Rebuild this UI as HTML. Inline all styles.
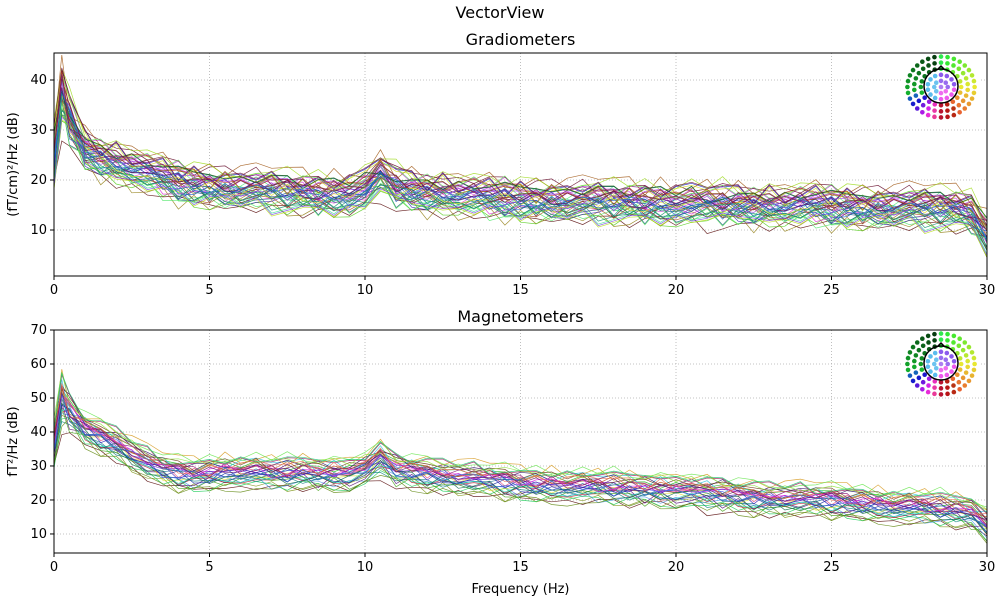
<!DOCTYPE html>
<html><head><meta charset="utf-8"><style>
body{margin:0;background:#fff;font-family:"Liberation Sans",sans-serif}
svg text{font-family:"DejaVu Sans","Liberation Sans",sans-serif;fill:#000}
</style></head><body>
<svg id="c" width="1000" height="600"></svg>
<script>
const freqs=[0,0.25,0.5,1,1.5,2,2.5,3,3.5,4,4.5,5,5.5,6,6.5,7,7.5,8,8.5,9,9.5,10,10.5,11,11.5,12,12.5,13,13.5,14,14.5,15,15.5,16,16.5,17,17.5,18,18.5,19,19.5,20,20.5,21,21.5,22,22.5,23,23.5,24,24.5,25,25.5,26,26.5,27,27.5,28,28.5,29,29.5,30];
const gradMean=[24,37,32,26,24.5,23.5,22.5,21.5,20.5,19.5,19,18.7,18.4,18.2,18,17.8,17.6,17.4,17.2,17,17.3,18,21,18.5,17.8,17.5,17.3,17,16.8,16.5,16.3,16,15.9,15.8,15.7,15.6,15.6,15.5,15.5,15.4,15.3,15.3,15.2,15.1,15,15,14.9,14.9,14.8,14.9,15,14.7,14.6,14.5,14.5,14.4,14.4,14.3,14.3,14.2,13.5,9];
const magMean=[36,50,46,41,39,37,34,31,29,28,27.5,28,28.5,28.5,28.5,28,28,28.5,28,28,28,29,32.5,29,28.5,28,27.5,27,26.5,26,25.5,25,24.8,24.6,24.4,24.2,24,23.8,23.6,23.4,23.2,23,22.6,22.2,21.8,21.4,21,20.8,20.6,20.4,20.2,20,19.6,19.2,18.8,18.4,18.2,18,17.6,17.2,16.5,13];
const gradOffsets=[-4,-3.5,-3,-2.6,-2.2,-1.8,-1.5,-1.2,-0.9,-0.6,-0.3,0,0.2,0.5,0.8,1,1.3,1.6,1.9,2.2,2.6,3,3.5,4,-2.8,-0.8,0.6,1.4,2.4,-1.6,-3.2,-2.4,-1.3,-0.5,0.1,0.7,1.2,1.8,2.8,-2,-1,0.3,0.9,1.5,-0.1,2,-1.4,0.4,-2.9,1.1];
const magOffsets=[-5,-4.2,-3.6,-3,-2.4,-1.9,-1.4,-0.9,-0.4,0,0.4,0.9,1.4,1.9,2.5,3.1,3.8,4.5,-2.6,-0.2,1.1,2.2,-3.3,-1.6,-0.6,0.6,1.6,2.8,-2,-1.1,0.2,1.2,-4.5,3.4,-0.8,0.8];
const jitter=[1.2,-0.8,0.5,-1.4,0.9,0.3,-0.6,1.5,-1.1,0.2,0.8,-1.3,0.4,1.1,-0.5,-0.9,1.3,-0.2,0.6,-1.5,0.9,-0.4,1.4,-0.7,0.1,-1.2,0.7,1.0,-0.3,-1.0,0.5,1.2,-0.8,0.3,-1.4,0.8,-0.1,1.1,-0.6,0.4,-0.9,1.3,-0.4,0.2,-1.1,0.9,0.6,-1.3,1.0,-0.2,0.3,-0.8,1.2,-0.5,0.7,-1.0,0.4,1.1,-0.7,0.2,-0.3,0.8,-1.2];
const xTicks=[0,5,10,15,20,25,30];
const gradTicks=[10,20,30,40];
const magTicks=[10,20,30,40,50,60,70];
const NS="http://www.w3.org/2000/svg";
const svg=document.getElementById('c');
function el(t,a,p){const e=document.createElementNS(NS,t);for(const k in a)e.setAttribute(k,a[k]);(p||svg).appendChild(e);return e;}
function txt(s,a,p){const e=el('text',a,p);e.textContent=s;return e;}
const ttl=txt('VectorView',{x:500,y:18,'text-anchor':'middle','font-size':16});

function panel(name,title,top,bot,ymin,ymax,ticks,mean,offs,ylabel,showXlabel){
 const g=el('g',{});
 
 
 const L=54,R=987;
 const X=f=>L+(f/30)*(R-L);
 const Y=v=>bot-(v-ymin)/(ymax-ymin)*(bot-top);
 const t=txt(title,{x:(L+R)/2,y:top-8,'text-anchor':'middle','font-size':16},g);
 
 const grid=el('g',{stroke:'#b0b0b0','stroke-width':0.8,'stroke-dasharray':'1,2'},g);
 xTicks.forEach(v=>{el('line',{x1:X(v),x2:X(v),y1:top,y2:bot},grid);});
 ticks.forEach(v=>{el('line',{x1:L,x2:R,y1:Y(v),y2:Y(v)},grid);});
 const lines=el('g',{fill:'none','stroke-width':0.7,'stroke-opacity':0.85},g);
 offs.forEach((o,ci)=>{
  const pts=freqs.map((f,i)=>{
   const j=jitter[(i*3+ci*7)%jitter.length];
   const sc=(i<3?2:1.3);
   return X(f).toFixed(1)+','+Y(mean[i]+o*(i<2?1.6:1)+j*sc).toFixed(1);
  }).join(' ');
  const hue=(ci*360/offs.length*7)%360;
  const light=20+((ci*13)%45);
  const p=el('polyline',{points:pts,stroke:`hsl(${hue},75%,${light}%)`},lines);
  
  
 });
 el('rect',{x:L,y:top,width:R-L,height:bot-top,fill:'none',stroke:'#000','stroke-width':1},g);
 ticks.forEach(v=>{el('line',{x1:L-4,x2:L,y1:Y(v),y2:Y(v),stroke:'#000'},g);
  txt(String(v),{x:L-7,y:Y(v)+4,'text-anchor':'end','font-size':13},g);});
 xTicks.forEach(v=>{el('line',{x1:X(v),x2:X(v),y1:bot,y2:bot+4,stroke:'#000'},g);
  txt(String(v),{x:X(v),y:bot+18,'text-anchor':'middle','font-size':13},g);});
 const yl=txt(ylabel,{x:17,y:(top+bot)/2,'text-anchor':'middle','font-size':13,transform:`rotate(-90 17 ${(top+bot)/2})`},g);
 
 if(showXlabel){const xl=txt('Frequency (Hz)',{x:(L+R)/2,y:593,'text-anchor':'middle','font-size':13},g);
  }
 const cx=941,cy=top+33;
 const ins=el('g',{},g);
 
 
 el('rect',{x:cx-40,y:cy-31,width:80,height:64,fill:'#fff'},ins);
 for(let r=0;r<=5;r++){const n=r===0?1:r*6+2;
  for(let k=0;k<n;k++){const a=k/n*2*Math.PI;const rad=r*6.4;
   const dx=Math.sin(a)*rad*1.05,dy=-Math.cos(a)*rad*0.95;
   const deg=a*180/Math.PI;
   let hue,sat=80,light;
   if(deg<=180){hue=130-deg*(140/180);}else{hue=130;}
   if(r<=2){hue=(r===0)?265:(hue<60?300:220+(deg>180?-20:40));light=72-r*4;}
   else{light=deg>180?(60-(deg-180)/180*50):55;if(deg>150&&deg<=180)light=40;}
   if(deg>180&&r>2){hue=deg>250?130:(350-(deg-180)*2);}
   el('circle',{cx:cx+dx,cy:cy+dy+1,r:2.3,fill:`hsl(${(hue+360)%360},${sat}%,${light}%)`},ins);}}
 el('circle',{cx:cx,cy:cy,r:17,fill:'none',stroke:'#000','stroke-width':1.5},ins);
 el('polyline',{points:`${cx-4},${cy-16} ${cx},${cy-20} ${cx+4},${cy-16}`,fill:'none',stroke:'#000','stroke-width':1.5},ins);
}
panel('gradiometers-panel','Gradiometers',53,276,0.8,45.4,gradTicks,gradMean,gradOffsets,'(fT/cm)²/Hz (dB)',false);
panel('magnetometers-panel','Magnetometers',330,553,4.4,70,magTicks,magMean,magOffsets,'fT²/Hz (dB)',true);
</script>
</body></html>
